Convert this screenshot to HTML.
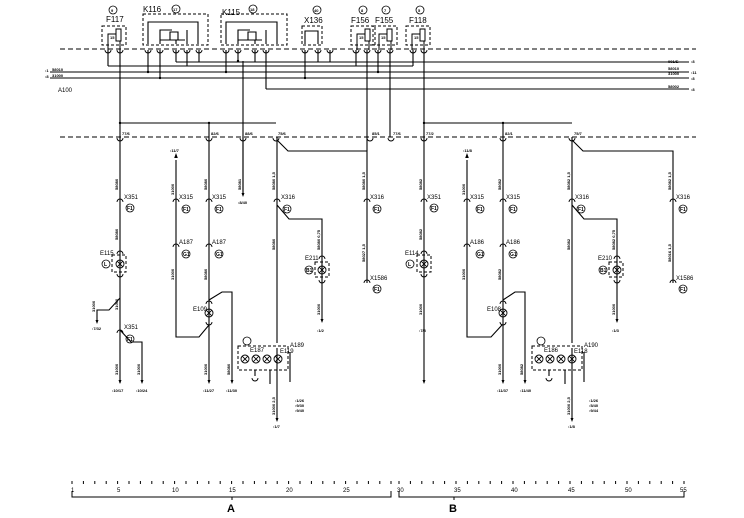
<!DOCTYPE html>
<html><head><meta charset="utf-8"><style>
html,body{margin:0;padding:0;background:#fff;width:744px;height:518px;overflow:hidden}
svg{display:block}
text{font-family:"Liberation Sans",sans-serif;fill:#000}
.l{font-size:8px}
.t{font-size:4px;font-weight:bold}
.n{font-size:6px}
.c{font-size:5px;font-weight:bold}
</style></head><body>
<svg width="744" height="518" viewBox="0 0 744 518" xmlns="http://www.w3.org/2000/svg">
<defs>
<g id="cu"><path d="M-3,0 a3,3 0 0 1 6,0" fill="none" stroke="#000" stroke-width="0.9"/></g>
<g id="cd"><path d="M-3,0 a3,3 0 0 0 6,0" fill="none" stroke="#000" stroke-width="0.9"/></g>
<g id="lamp"><circle r="4" fill="none" stroke="#000" stroke-width="0.9"/><path d="M-2.8,-2.8L2.8,2.8M2.8,-2.8L-2.8,2.8" stroke="#000" stroke-width="0.9"/></g>
<g id="ar"><path d="M-1.5,-4L0,0L1.5,-4z" fill="#000"/></g>
<g id="fuse"><rect x="0" y="0" width="24" height="19" fill="none" stroke="#000" stroke-dasharray="3,2"/><path d="M6,24V8H14" fill="none" stroke="#000"/><rect x="14" y="3" width="5" height="12" fill="none" stroke="#000"/><path d="M18,15V24" stroke="#000"/><text x="8" y="13" class="t">15</text></g>
</defs>
<g stroke="#000" stroke-width="1.1" fill="none">
<path d="M60,49H696M60,137H696" stroke-dasharray="5,3" stroke-width="1"/>
<path d="M176,62H683M108,66H413M50,72H683M50,78H683M266,89H683"/>
<path d="M683,62l6,0M683,72l6,0M683,78l6,0M683,89l6,0" />
<path d="M108,50V66M120,50V383" />
<path d="M148,50V72M160,50V78M176,50V62M187,50V66M199,50V62"/>
<path d="M226,50V72M238,50V61M243,61V195M255,50V62M266,50V89"/>
<path d="M305,50V78M318,50V62M330,50V62"/>
<path d="M356,50V66M367,50V151M378,50V72M390,50V137M413,50V66M424,50V380"/>
<path d="M120,123H276M209,123V137M424,123H572M503,123V137"/>
<rect x="143" y="14" width="65" height="31" stroke-dasharray="3,2" stroke-width="1"/>
<path d="M148,44V22H198V44M160,44V30H172M170,32h8v8h-8zM160,40H185M176,44V40M187,44V30"/>
<rect x="221" y="14" width="66" height="31" stroke-dasharray="3,2" stroke-width="1"/>
<path d="M226,44V22H277V44M238,44V30H250M248,32h8v8h-8zM238,40H262M255,44V40M266,44V30"/>
<rect x="302" y="26" width="20" height="19" stroke-dasharray="3,2" stroke-width="1"/>
<path d="M305,44V31H318V44"/>
</g>
<use href="#fuse" x="102" y="26"/><use href="#fuse" x="351" y="26"/><use href="#fuse" x="373" y="26"/><use href="#fuse" x="406" y="26"/>
<g fill="#000">
<circle cx="148" cy="72" r="1.2"/><circle cx="160" cy="78" r="1.2"/><circle cx="226" cy="72" r="1.2"/><circle cx="238" cy="61" r="1.2"/><circle cx="305" cy="78" r="1.2"/><circle cx="378" cy="72" r="1.2"/><circle cx="120" cy="123" r="1.2"/><circle cx="209" cy="123" r="1.2"/><circle cx="424" cy="123" r="1.2"/><circle cx="503" cy="123" r="1.2"/>
</g>
<g>
<use href="#cd" x="108" y="50"/><use href="#cd" x="120" y="50"/><use href="#cd" x="148" y="50"/><use href="#cd" x="160" y="50"/><use href="#cd" x="176" y="50"/><use href="#cd" x="187" y="50"/><use href="#cd" x="199" y="50"/><use href="#cd" x="226" y="50"/><use href="#cd" x="238" y="50"/><use href="#cd" x="255" y="50"/><use href="#cd" x="266" y="50"/><use href="#cd" x="305" y="50"/><use href="#cd" x="318" y="50"/><use href="#cd" x="330" y="50"/><use href="#cd" x="356" y="50"/><use href="#cd" x="367" y="50"/><use href="#cd" x="378" y="50"/><use href="#cd" x="390" y="50"/><use href="#cd" x="413" y="50"/><use href="#cd" x="424" y="50"/>
<use href="#cd" x="120" y="138"/><use href="#cd" x="209" y="138"/><use href="#cd" x="243" y="138"/><use href="#cd" x="276" y="138"/><use href="#cd" x="370" y="138"/><use href="#cd" x="391" y="138"/><use href="#cd" x="424" y="138"/><use href="#cd" x="503" y="138"/><use href="#cd" x="572" y="138"/>
</g>
<g class="l">
<text x="106" y="22">F117</text><text x="143" y="12">K116</text><text x="222" y="15">K115</text><text x="304" y="23">X136</text><text x="351" y="23">F156</text><text x="375" y="23">F155</text><text x="409" y="23">F118</text>
<text x="58" y="92" class="n">A100</text>
</g>
<g fill="none" stroke="#000" stroke-width="0.8">
<circle cx="113" cy="10" r="4"/><circle cx="176" cy="9" r="4"/><circle cx="253" cy="9" r="4"/><circle cx="317" cy="10" r="4"/><circle cx="363" cy="10" r="4"/><circle cx="386" cy="10" r="4"/><circle cx="420" cy="10" r="4"/>
</g>
<g class="t">
<text x="111" y="12">9</text><text x="173" y="11">17</text><text x="250" y="11">18</text><text x="314" y="12">40</text><text x="361" y="12">8</text><text x="384" y="12">7</text><text x="418" y="12">5</text>
<text x="668" y="63">001/E</text><text x="691" y="63">:8</text><text x="668" y="70">58010</text><text x="668" y="75">31000</text><text x="691" y="74">:11</text><text x="691" y="80">:8</text><text x="668" y="88">58002</text><text x="691" y="91">:8</text>
<text x="52" y="71">58010</text><text x="52" y="77">31000</text><text x="45" y="72">:1</text><text x="45" y="78">:8</text>
<text x="122" y="135">77/6</text><text x="211" y="135">82/6</text><text x="245" y="135">88/6</text><text x="278" y="135">75/6</text><text x="372" y="135">85/1</text><text x="393" y="135">77/6</text><text x="426" y="135">77/2</text><text x="505" y="135">82/1</text><text x="574" y="135">75/7</text>
</g>

<g stroke="#000" stroke-width="1.1" fill="none">
<path d="M120,298L109,310H97V322M120,330L131,342H142V380"/>
<path d="M176,160V337H199L209,325"/>
<path d="M209,137V380M209,300L222,292H232V380"/>
<path d="M243,137V195"/>
<path d="M277,137V343M277,140L288,151H367V283M277,205L289,219H322V320"/>
<rect x="112" y="255" width="14" height="17" stroke-dasharray="3,2" stroke-width="1"/>
<rect x="315" y="262" width="14" height="15" stroke-dasharray="3,2" stroke-width="1"/>
<rect x="238" y="346" width="50" height="24" stroke-dasharray="3,2" stroke-width="1"/>
<path d="M277,348V420M255,370v6M270,370V384M290,352V382"/>
<path d="M467,160V337H491L502,325"/>
<path d="M503,137V380M503,300L515,292H525V380"/>
<path d="M572,137V343M572,140L583,151H673V283M572,205L584,219H617V320"/>
<rect x="417" y="255" width="14" height="17" stroke-dasharray="3,2" stroke-width="1"/>
<rect x="609" y="262" width="14" height="15" stroke-dasharray="3,2" stroke-width="1"/>
<rect x="532" y="346" width="50" height="24" stroke-dasharray="3,2" stroke-width="1"/>
<path d="M572,348V420M549,370v6M565,370V384M584,352V382"/>
</g>
<g>
<use href="#ar" x="97" y="324"/><use href="#ar" x="120" y="384"/><use href="#ar" x="142" y="384"/><use href="#ar" x="209" y="384"/><use href="#ar" x="232" y="384"/><use href="#ar" x="243" y="197"/><use href="#ar" x="322" y="323"/><use href="#ar" x="277" y="422"/>
<use href="#ar" x="424" y="384"/><use href="#ar" x="503" y="384"/><use href="#ar" x="525" y="384"/><use href="#ar" x="617" y="323"/><use href="#ar" x="572" y="422"/>
<path d="M176,153l-1.8,5h3.6zM467,153l-1.8,5h3.6z" fill="#000"/>
</g>
<g>
<use href="#lamp" x="120" y="264"/><use href="#lamp" x="209" y="313"/><use href="#lamp" x="424" y="264"/><use href="#lamp" x="503" y="313"/>
<use href="#lamp" x="322" y="270"/><use href="#lamp" x="617" y="270"/>
<use href="#lamp" x="245" y="359"/><use href="#lamp" x="256" y="359"/><use href="#lamp" x="267" y="359"/><use href="#lamp" x="278" y="359"/>
<use href="#lamp" x="539" y="359"/><use href="#lamp" x="550" y="359"/><use href="#lamp" x="561" y="359"/><use href="#lamp" x="572" y="359"/>
<use href="#cu" x="120" y="202"/><use href="#cu" x="120" y="254"/><use href="#cd" x="120" y="274"/><use href="#cu" x="120" y="333"/>
<use href="#cu" x="176" y="202"/><use href="#cu" x="176" y="247"/><use href="#cu" x="209" y="202"/><use href="#cu" x="209" y="247"/><use href="#cu" x="209" y="304"/><use href="#cd" x="209" y="322"/>
<use href="#cu" x="277" y="202"/><use href="#cu" x="367" y="202"/><use href="#cu" x="367" y="283"/><use href="#cu" x="322" y="259"/><use href="#cd" x="322" y="280"/>
<use href="#cu" x="424" y="202"/><use href="#cu" x="424" y="254"/><use href="#cd" x="424" y="274"/>
<use href="#cu" x="467" y="202"/><use href="#cu" x="467" y="247"/><use href="#cu" x="503" y="202"/><use href="#cu" x="503" y="247"/><use href="#cu" x="503" y="304"/><use href="#cd" x="503" y="322"/>
<use href="#cu" x="572" y="202"/><use href="#cu" x="673" y="202"/><use href="#cu" x="673" y="283"/><use href="#cu" x="617" y="259"/><use href="#cd" x="617" y="280"/>
<use href="#cd" x="255" y="378"/><use href="#cd" x="549" y="378"/>
</g>
<g fill="none" stroke="#000" stroke-width="0.8">
<circle cx="130" cy="208" r="4"/><circle cx="106" cy="264" r="4"/><circle cx="130" cy="339" r="4"/><circle cx="186" cy="209" r="4"/><circle cx="186" cy="254" r="4"/><circle cx="219" cy="209" r="4"/><circle cx="219" cy="254" r="4"/><circle cx="287" cy="209" r="4"/><circle cx="377" cy="209" r="4"/><circle cx="377" cy="289" r="4"/><circle cx="309" cy="270" r="4"/><circle cx="247" cy="341" r="4"/>
<circle cx="434" cy="208" r="4"/><circle cx="410" cy="264" r="4"/><circle cx="480" cy="209" r="4"/><circle cx="480" cy="254" r="4"/><circle cx="513" cy="209" r="4"/><circle cx="513" cy="254" r="4"/><circle cx="581" cy="209" r="4"/><circle cx="683" cy="209" r="4"/><circle cx="683" cy="289" r="4"/><circle cx="603" cy="270" r="4"/><circle cx="541" cy="341" r="4"/>
</g>
<g class="c">
<text x="127" y="210">F1</text><text x="104" y="266">L</text><text x="127" y="341">F1</text><text x="183" y="211">F1</text><text x="183" y="256">G1</text><text x="216" y="211">F1</text><text x="216" y="256">G1</text><text x="284" y="211">F1</text><text x="374" y="211">F1</text><text x="374" y="291">F1</text><text x="306" y="272">B1</text>
<text x="431" y="210">F1</text><text x="408" y="266">L</text><text x="477" y="211">F1</text><text x="477" y="256">G1</text><text x="510" y="211">F1</text><text x="510" y="256">G1</text><text x="578" y="211">F1</text><text x="680" y="211">F1</text><text x="680" y="291">F1</text><text x="600" y="272">B1</text>
</g>
<g class="n">
<text x="124" y="199">X351</text><text x="100" y="255">E115</text><text x="124" y="329">X351</text><text x="179" y="199">X315</text><text x="212" y="199">X315</text><text x="179" y="244">A187</text><text x="212" y="244">A187</text><text x="193" y="311">E109</text><text x="281" y="199">X316</text><text x="370" y="199">X316</text><text x="370" y="280">X1586</text><text x="305" y="260">E211</text><text x="290" y="347">A189</text><text x="250" y="352">E187</text><text x="280" y="353">E119</text>
<text x="427" y="199">X351</text><text x="405" y="255">E114</text><text x="470" y="199">X315</text><text x="506" y="199">X315</text><text x="470" y="244">A186</text><text x="506" y="244">A186</text><text x="487" y="311">E108</text><text x="575" y="199">X316</text><text x="676" y="199">X316</text><text x="676" y="280">X1586</text><text x="598" y="260">E210</text><text x="584" y="347">A190</text><text x="544" y="352">E186</text><text x="574" y="353">E118</text>
</g>
<g class="t">
<text x="92" y="330">:7/32</text><text x="112" y="392">:10/17</text><text x="136" y="392">:10/24</text><text x="170" y="152">:11/7</text><text x="203" y="392">:11/27</text><text x="226" y="392">:11/30</text><text x="238" y="204">:8/40</text><text x="317" y="332">:1/2</text><text x="273" y="428">:1/7</text>
<text x="419" y="332">:7/3</text><text x="463" y="152">:11/8</text><text x="497" y="392">:11/37</text><text x="520" y="392">:11/40</text><text x="612" y="332">:1/3</text><text x="568" y="428">:1/8</text>
<text x="295" y="402">:1/26</text><text x="295" y="407">:9/30</text><text x="295" y="412">:9/40</text><text x="589" y="402">:1/26</text><text x="589" y="407">:5/40</text><text x="589" y="412">:9/44</text>
</g>
<g class="t">
<text transform="translate(118,190) rotate(-90)">58080</text><text transform="translate(118,240) rotate(-90)">58080</text><text transform="translate(174,195) rotate(-90)">31000</text><text transform="translate(207,190) rotate(-90)">58080</text><text transform="translate(275,190) rotate(-90)">58080 1,5</text><text transform="translate(365,190) rotate(-90)">58080 1,5</text><text transform="translate(241,190) rotate(-90)">58081</text><text transform="translate(275,250) rotate(-90)">58080</text><text transform="translate(320,250) rotate(-90)">58080 0,75</text><text transform="translate(365,262) rotate(-90)">58027 1,5</text>
<text transform="translate(118,310) rotate(-90)">31000</text><text transform="translate(95,312) rotate(-90)">31000</text><text transform="translate(118,375) rotate(-90)">31000</text><text transform="translate(140,375) rotate(-90)">31000</text><text transform="translate(174,280) rotate(-90)">31000</text><text transform="translate(207,280) rotate(-90)">58080</text><text transform="translate(207,375) rotate(-90)">31000</text><text transform="translate(230,375) rotate(-90)">58080</text><text transform="translate(320,315) rotate(-90)">31000</text><text transform="translate(275,415) rotate(-90)">31000 2,5</text>
<text transform="translate(422,190) rotate(-90)">58082</text><text transform="translate(422,240) rotate(-90)">58082</text><text transform="translate(465,195) rotate(-90)">31000</text><text transform="translate(501,190) rotate(-90)">58082</text><text transform="translate(570,190) rotate(-90)">58082 1,5</text><text transform="translate(671,190) rotate(-90)">58082 1,5</text><text transform="translate(570,250) rotate(-90)">58082</text><text transform="translate(615,250) rotate(-90)">58082 0,75</text><text transform="translate(671,262) rotate(-90)">58016 1,5</text>
<text transform="translate(422,315) rotate(-90)">31000</text><text transform="translate(465,280) rotate(-90)">31000</text><text transform="translate(501,280) rotate(-90)">58082</text><text transform="translate(501,375) rotate(-90)">31000</text><text transform="translate(523,375) rotate(-90)">58082</text><text transform="translate(615,315) rotate(-90)">31000</text><text transform="translate(570,415) rotate(-90)">31000 2,5</text>
</g>
<g stroke="#000" stroke-width="1" fill="none">
<path d="M72,491V497H391V491M399,491V497H684V491M232,497v3M454,497v3"/>
<path d="M72,481v3M83.4,481v3M94.8,481v3M106.2,481v3M117.6,481v3M129,481v3M140.4,481v3M151.8,481v3M163.2,481v3M174.6,481v3M186,481v3M197.4,481v3M208.8,481v3M220.2,481v3M231.6,481v3M243,481v3M254.4,481v3M265.8,481v3M277.2,481v3M288.6,481v3M300,481v3M311.4,481v3M322.8,481v3M334.2,481v3M345.6,481v3M357,481v3M368.4,481v3M379.8,481v3M391,481v3"/>
<path d="M399,481v3M410.4,481v3M421.8,481v3M433.2,481v3M444.6,481v3M456,481v3M467.4,481v3M478.8,481v3M490.2,481v3M501.6,481v3M513,481v3M524.4,481v3M535.8,481v3M547.2,481v3M558.6,481v3M570,481v3M581.4,481v3M592.8,481v3M604.2,481v3M615.6,481v3M627,481v3M638.4,481v3M649.8,481v3M661.2,481v3M672.6,481v3M684,481v3"/>
</g>
<g style="font-size:6px">
<text x="71" y="492">1</text><text x="117" y="492">5</text><text x="172" y="492">10</text><text x="229" y="492">15</text><text x="286" y="492">20</text><text x="343" y="492">25</text><text x="397" y="492">30</text><text x="454" y="492">35</text><text x="511" y="492">40</text><text x="568" y="492">45</text><text x="625" y="492">50</text><text x="680" y="492">55</text>
</g>
<text x="227" y="512" style="font-size:11px;font-weight:bold">A</text>
<text x="449" y="512" style="font-size:11px;font-weight:bold">B</text>
</svg>
</body></html>
